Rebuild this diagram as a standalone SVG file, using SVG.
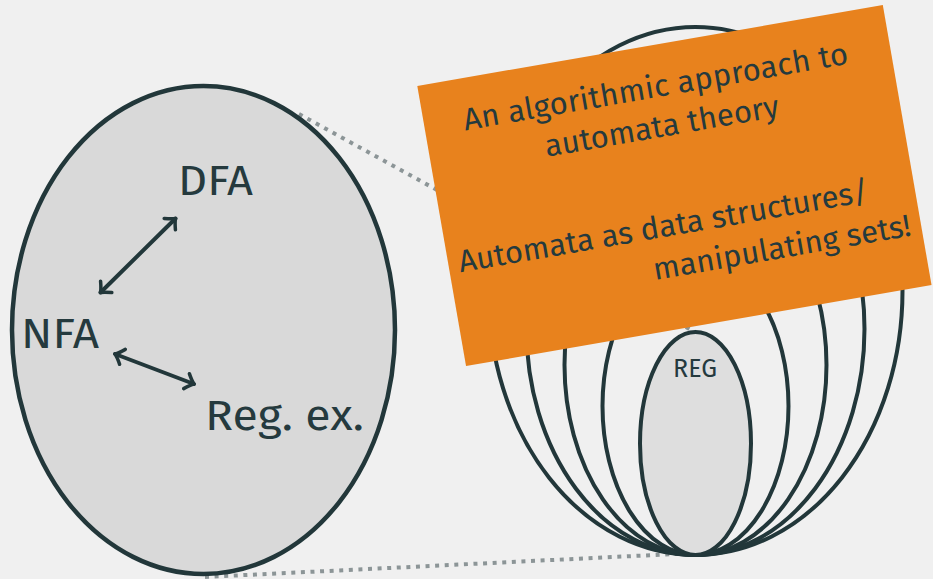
<svg xmlns="http://www.w3.org/2000/svg" width="933" height="579" viewBox="0 0 933 579">
  <defs>
    <style>
      .bg { fill: #f0f0f0; }
      .set { fill: #d9d9d9; stroke: #22373a; stroke-width: 4.5; }
      .ring { fill: none; stroke: #22373a; stroke-width: 4; }
      .reg { fill: #dedede; stroke: #22373a; stroke-width: 4; }
      .lbl { font-family: "Fira Sans", "Open Sans", "Noto Sans", sans-serif; fill: #253a3e; }
      .big { font-size: 43px; }
      .small { font-size: 25px; }
      .note { font-size: 31px; }
      .arrow { fill: none; stroke: #22373a; stroke-width: 4; stroke-linecap: round; marker-start: url(#head); marker-end: url(#head); }
      .dots { fill: none; stroke: #8c9597; stroke-width: 4; stroke-dasharray: 4 5.6; }
      .box { fill: #e8821d; }
    </style>
    <marker id="head" viewBox="-10 -10 14 20" markerWidth="14" markerHeight="20" refX="0" refY="0" orient="auto-start-reverse" markerUnits="userSpaceOnUse">
      <path d="M -8 -8 Q -3 -2 0 0 Q -3 2 -8 8" fill="none" stroke="#22373a" stroke-width="3.5" stroke-linecap="round" stroke-linejoin="round"/>
    </marker>
  </defs>

  <rect class="bg" x="0" y="0" width="933" height="579"/>

  <g id="zoom-lines">
    <line class="dots" x1="299" y1="114" x2="695" y2="332"/>
    <line class="dots" x1="205" y1="577" x2="695" y2="553"/>
  </g>

  <g id="node-left-set">
    <ellipse class="set" cx="203.5" cy="330" rx="191.5" ry="244"/>
  </g>

  <g id="node-dfa">
    <text class="lbl big" x="178" y="195" textLength="75" lengthAdjust="spacingAndGlyphs">DFA</text>
  </g>
  <g id="node-nfa">
    <text class="lbl big" x="21" y="348" textLength="78" lengthAdjust="spacingAndGlyphs">NFA</text>
  </g>
  <g id="node-regex">
    <text class="lbl big" x="205" y="430" textLength="159" lengthAdjust="spacingAndGlyphs">Reg. ex.</text>
  </g>

  <g id="connectors">
    <line class="arrow" x1="100.5" y1="292.5" x2="175.5" y2="218.5"/>
    <line class="arrow" x1="115" y1="354" x2="194" y2="384"/>
  </g>

  <g id="node-hierarchy">
    <ellipse class="ring" cx="695.5" cy="291" rx="207" ry="264"/>
    <ellipse class="ring" cx="695.5" cy="329" rx="169" ry="226"/>
    <ellipse class="ring" cx="695.5" cy="365" rx="131" ry="190"/>
    <ellipse class="ring" cx="695.5" cy="406" rx="93" ry="149"/>
  </g>

  <g id="node-reg">
    <ellipse class="reg" cx="695.5" cy="443.5" rx="55.5" ry="111.5"/>
    <text class="lbl small" x="695" y="377" text-anchor="middle">REG</text>
  </g>

  <g id="node-callout" transform="translate(417.3,86) rotate(-9.87)">
    <rect class="box" x="0" y="0" width="472.5" height="284.3"/>
    <text class="lbl note" x="39.5" y="52" textLength="390">An algorithmic approach to</text>
    <text class="lbl note" x="115.5" y="92" textLength="237">automata theory</text>
    <text class="lbl note" x="10.5" y="191" textLength="416">Automata as data structures/</text>
    <text class="lbl note" x="201" y="232" textLength="261">manipulating sets!</text>
  </g>
</svg>
